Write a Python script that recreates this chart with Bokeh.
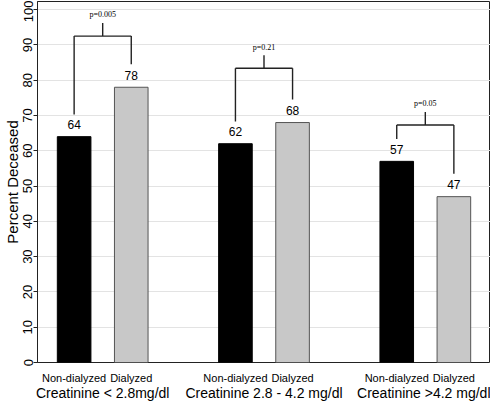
from bokeh.plotting import figure
from bokeh.models import FixedTicker, Range1d, ColumnDataSource, LinearAxis
from bokeh.embed import file_html
from bokeh.resources import INLINE
from bokeh.core.properties import value

# ---- data ----
groups = ["Creatinine < 2.8mg/dl", "Creatinine 2.8 - 4.2 mg/dl", "Creatinine >4.2 mg/dl"]
treatments = ["Non-dialyzed", "Dialyzed"]
non_dialyzed = [64, 62, 57]
dialyzed = [78, 68, 47]
p_values = ["p=0.005", "p=0.21", "p=0.05"]
bracket_heights = [92.5, 83.4, 67.3]
y_ticks = [0, 10, 20, 30, 40, 50, 60, 70, 80, 90, 100]

# ---- layout constants ----
BAR_W = 1.0
FACTOR_PAD = 0.7
GROUP_PAD = 2.1
EDGE_PAD = 0.59
SANS = "Liberation Sans"
SERIF = "Liberation Serif"

# bar centres (barplot style spacing)
centers, tops, fills, lines, tick_names = [], [], [], [], []
pad = 0.0
i = 0
for k, (nd, d) in enumerate(zip(non_dialyzed, dialyzed)):
    for j, (v, t) in enumerate(zip((nd, d), treatments)):
        if i > 0:
            pad += FACTOR_PAD if j > 0 else GROUP_PAD
        centers.append(round(BAR_W / 2 + i * BAR_W + pad, 6))
        tops.append(v)
        tick_names.append(t)
        fills.append("#000000" if j == 0 else "#c8c8c8")
        lines.append("#000000" if j == 0 else "#555555")
        i += 1
group_centers = [round((centers[2 * k] + centers[2 * k + 1]) / 2, 6) for k in range(len(groups))]
x_start = centers[0] - BAR_W / 2 - EDGE_PAD
x_end = centers[-1] + BAR_W / 2 + EDGE_PAD

p = figure(width=490, height=403, x_range=Range1d(x_start, x_end), y_range=Range1d(0, 102.3),
           output_backend="svg", toolbar_location=None,
           min_border_left=30, min_border_right=0, min_border_top=1, min_border_bottom=40)
p.background_fill_color = "white"
p.border_fill_color = "white"
p.outline_line_color = "#222222"
p.outline_line_width = 1

# grid
p.xgrid.visible = False
p.ygrid.ticker = FixedTicker(ticks=y_ticks[1:])
p.ygrid.grid_line_color = "#e3e3e3"
p.ygrid.grid_line_width = 1

# bars
src = ColumnDataSource(dict(x=centers, top=tops, fill=fills, line=lines,
                            lab=[str(v) for v in tops], ly=[v + 3.4 for v in tops]))
p.vbar(x="x", top="top", width=BAR_W, source=src, fill_color="fill", line_color="line", line_width=1)
p.text(x="x", y="ly", text="lab", source=src, text_font=value(SANS), text_font_size="12px",
       text_align="center", text_baseline="middle", text_color="black")

# brackets
sx0, sx1, sy0, sy1 = [], [], [], []
tx, ty, tt = [], [], []
for k, (nd, d, h, pv) in enumerate(zip(non_dialyzed, dialyzed, bracket_heights, p_values)):
    left = centers[2 * k]
    right = centers[2 * k + 1]
    mid = (left + right) / 2
    sx0 += [left, right, left, mid]
    sx1 += [left, right, right, mid]
    sy0 += [nd + 6.3, d + 6.5, h, h]
    sy1 += [h, h, h, h + 3.7]
    tx.append(mid)
    ty.append(h + 6.0)
    tt.append(pv)
p.segment(x0=sx0, y0=sy0, x1=sx1, y1=sy1, line_color="#222222", line_width=1.4)
p.text(x=tx, y=ty, text=tt, text_font=value(SERIF), text_font_size="8px",
       text_align="center", text_baseline="middle", text_color="black")

# y axis
ya = p.yaxis[0]
ya.ticker = FixedTicker(ticks=y_ticks)
ya.major_label_orientation = "vertical"
ya.major_label_text_font = SANS
ya.major_label_text_font_size = "13px"
ya.major_label_text_color = "black"
ya.major_label_standoff = 1
ya.minor_tick_line_color = None
ya.major_tick_in = 0
ya.major_tick_out = 4
ya.major_tick_line_color = "#222222"
ya.axis_line_color = "#222222"
ya.axis_label = "Percent Deceased"
ya.axis_label_text_font = SANS
ya.axis_label_text_font_size = "15px"
ya.axis_label_text_font_style = "normal"
ya.axis_label_text_color = "black"
ya.axis_label_standoff = 0


def style_x(ax, size, standoff):
    ax.axis_line_color = None
    ax.major_tick_line_color = None
    ax.minor_tick_line_color = None
    ax.major_tick_in = 0
    ax.major_tick_out = 0
    ax.axis_label_standoff = 0
    ax.major_label_text_font = SANS
    ax.major_label_text_font_size = size
    ax.major_label_text_color = "black"
    ax.major_label_standoff = standoff


# x axis 1: treatment names under each bar
xa = p.xaxis[0]
xa.ticker = FixedTicker(ticks=centers)
xa.major_label_overrides = {c: n for c, n in zip(centers, tick_names)}
style_x(xa, "11px", 9)

# x axis 2: creatinine group names
xg = LinearAxis(ticker=FixedTicker(ticks=group_centers),
                major_label_overrides={c: g for c, g in zip(group_centers, groups)})
style_x(xg, "14px", -2)
p.add_layout(xg, "below")

open("out.html", "w").write(file_html(p, INLINE))
